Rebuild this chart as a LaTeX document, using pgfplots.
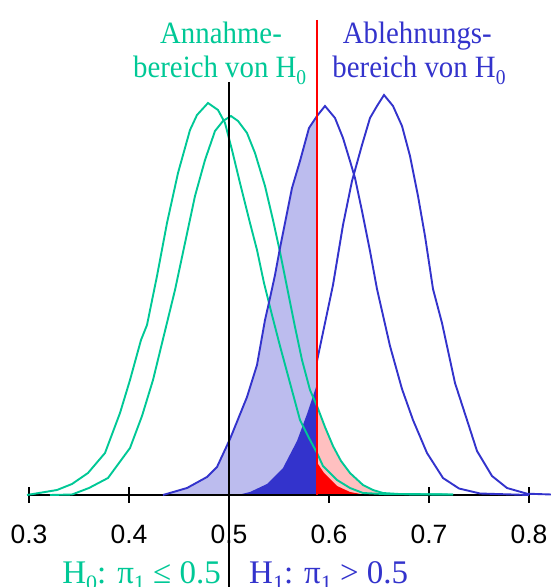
\documentclass[border=0pt]{standalone}
\usepackage{fontspec}
\setmainfont{Liberation Serif}
\newfontfamily\arial{Liberation Sans}
\usepackage{pgfplots}
\pgfplotsset{compat=1.18}
\definecolor{hgreen}{RGB}{0,200,150}
\definecolor{hblue}{RGB}{51,51,204}
\definecolor{ltblue}{RGB}{188,188,238}
\definecolor{ltred}{RGB}{255,192,192}
\newcommand{\subt}[1]{\raisebox{-6.5pt}{\fontsize{21}{21}\selectfont #1}}
\newcommand{\subb}[1]{\raisebox{-7pt}{\fontsize{22}{22}\selectfont #1}}
\begin{document}
\begin{tikzpicture}
\begin{axis}[
  scale only axis, width=551pt, height=587pt,
  xmin=0.271, xmax=0.822, ymin=-92, ymax=495,
  axis x line=middle, axis y line=none,
  x axis line style={draw=none},
  xtick={0.3,0.4,0.5,0.6,0.7,0.8},
  xticklabels={0.3,0.4,0.5,0.6,0.7,0.8},
  major tick length=16pt, tick align=center,
  tick style={black, line width=2.4pt},
  xticklabel style={font=\arial\fontsize{26.5}{26.5}\selectfont, anchor=center, yshift=-31.5pt},
  /pgf/number format/assume math mode=true,
  clip=false,
]
% blue2 line (partly hidden by fills)
\addplot[hblue, line width=1.9pt] coordinates {
(0.50,0) (0.51,1.5) (0.52,4) (0.53,8) (0.54,16) (0.55,28) (0.56,46) (0.57,70) (0.58,100) (0.588,134) (0.596,172) (0.604,210) (0.614,270) (0.623,314) (0.633,350) (0.641,377) (0.648,389) (0.655,400) (0.664,389) (0.673,369) (0.681,339) (0.689,299) (0.696,259) (0.704,206) (0.713,172) (0.726,112) (0.738,75) (0.748,44) (0.763,19) (0.778,7) (0.798,1.3) (0.822,0.5)};
% dotted blue fill under blue1 left of critical value
\addplot[draw=none, fill=ltblue] coordinates {
(0.434,0) (0.458,7) (0.478,18) (0.488,28) (0.501,56) (0.518,98) (0.528,130) (0.536,175) (0.541,197) (0.546,220) (0.551,247) (0.563,307) (0.571,334) (0.580,367) (0.5877,379) (0.5877,0)} -- cycle;
% solid blue fill
\addplot[draw=none, fill=hblue] coordinates {
(0.503,0) (0.511,0.5) (0.521,3) (0.538,11) (0.554,27) (0.568,54) (0.578,81) (0.5877,110) (0.5877,0)} -- cycle;
% dotted red fill under green2 right of critical value
\addplot[draw=none, fill=ltred] coordinates {
(0.5877,89) (0.596,68) (0.604,49) (0.612,34) (0.621,22) (0.634,10) (0.644,5) (0.654,2) (0.66,0) (0.5877,0)} -- cycle;
% solid red fill
\addplot[draw=none, fill=red] coordinates {
(0.5877,33) (0.595,22) (0.608,9) (0.621,3) (0.634,0.5) (0.64,0) (0.5877,0)} -- cycle;
% x axis line
\addplot[black, line width=2pt] coordinates {(0.298,0) (0.8,0)};
% green1
\addplot[hgreen, line width=1.9pt] coordinates {
(0.298,0) (0.328,5) (0.343,11) (0.359,22) (0.376,42) (0.391,82) (0.401,115) (0.412,155) (0.418,170) (0.428,219) (0.438,272) (0.449,322) (0.461,365) (0.468,380) (0.479,392) (0.489,385) (0.496,372) (0.503,345) (0.511,312) (0.521,272) (0.528,245) (0.535,212) (0.543,180) (0.551,149) (0.561,112) (0.571,75) (0.580,57) (0.588,42) (0.594,29) (0.608,15) (0.621,7) (0.634,2) (0.658,0.8) (0.724,0.5)};
% green2
\addplot[hgreen, line width=1.9pt] coordinates {
(0.321,0) (0.343,0.5) (0.360,7) (0.379,17) (0.401,47) (0.413,79) (0.424,115) (0.435,160) (0.446,205) (0.456,252) (0.466,299) (0.476,335) (0.486,364) (0.494,374) (0.502,379) (0.509,374) (0.518,362) (0.526,342) (0.536,309) (0.544,275) (0.551,243) (0.557,213) (0.566,168) (0.573,135) (0.581,105) (0.588,89) (0.596,68) (0.604,49) (0.612,34) (0.621,22) (0.634,10) (0.644,5) (0.654,2) (0.67,1) (0.724,0.5)};
% blue1
\addplot[hblue, line width=1.9pt] coordinates {
(0.434,0) (0.458,7) (0.478,18) (0.488,28) (0.501,56) (0.518,98) (0.528,130) (0.536,175) (0.541,197) (0.546,220) (0.551,247) (0.563,307) (0.571,334) (0.580,367) (0.588,379) (0.596,389) (0.606,377) (0.614,357) (0.621,334) (0.626,317) (0.633,284) (0.641,244) (0.648,206) (0.661,149) (0.673,106) (0.684,75) (0.698,42) (0.714,17) (0.730,6.5) (0.751,1.5) (0.8,0)};
% vertical lines
\addplot[black, line width=2pt] coordinates {(0.5,413) (0.5,-92)};
\addplot[red, line width=2.4pt] coordinates {(0.5877,475) (0.5877,0)};
% texts
\node[anchor=base, inner sep=0, text=hgreen] at (axis cs:0.492,451.5) {\scalebox{0.93}[1]{\fontsize{31}{31}\selectfont Annahme-}};
\node[anchor=base, inner sep=0, text=hgreen] at (axis cs:0.4907,417) {\scalebox{0.93}[1]{\fontsize{31}{31}\selectfont bereich von H\subt{0}}};
\node[anchor=base, inner sep=0, text=hblue] at (axis cs:0.6883,451.5) {\scalebox{0.93}[1]{\fontsize{31}{31}\selectfont Ablehnungs-}};
\node[anchor=base, inner sep=0, text=hblue] at (axis cs:0.690,417) {\scalebox{0.93}[1]{\fontsize{31}{31}\selectfont bereich von H\subt{0}}};
\node[anchor=base east, inner sep=0, text=hgreen] at (axis cs:0.492,-88) {\fontsize{33}{33}\selectfont H\subb{0}: π\subb{1} ≤ 0.5};
\node[anchor=base west, inner sep=0, text=hblue] at (axis cs:0.520,-88) {\fontsize{33}{33}\selectfont H\subb{1}: π\subb{1} > 0.5};
\end{axis}
\pgfresetboundingbox
\useasboundingbox (current axis.south west) rectangle (current axis.north east);
\end{tikzpicture}
\end{document}
